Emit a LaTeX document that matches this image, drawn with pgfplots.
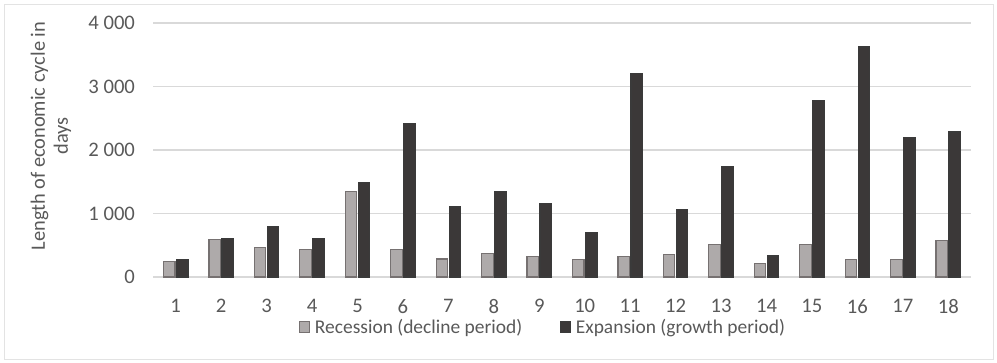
\documentclass[border=0pt]{standalone}
\usepackage{pgfplots}
\pgfplotsset{compat=1.18}
\usepackage{fontspec}
\setmainfont{Carlito}
\definecolor{txt}{HTML}{595959}
\definecolor{gridc}{HTML}{D9D9D9}
\definecolor{recfill}{HTML}{AEAAAA}
\definecolor{recdraw}{HTML}{767171}
\definecolor{expfill}{HTML}{3B3838}
\definecolor{expdraw}{HTML}{3A3A3A}
\definecolor{framec}{HTML}{E3E3E3}
\begin{document}
\begin{tikzpicture}[x=0.75pt,y=0.75pt]
\path[use as bounding box] (0,0) rectangle (997,362);
\draw[framec, line width=0.75pt] (4,3) rectangle (993,358);
\node[rotate=90, align=center, text=txt, font=\fontsize{15.3}{17.25}\selectfont] at (51,226) {Length of economic cycle in\\days};
\begin{axis}[
  at={(153pt*0.75,85pt*0.75)}, anchor=south west,
  scale only axis, width=613.5pt, height=190.5pt,
  /pgf/number format/assume math mode=true,
  ybar=1.1pt, bar width=8.6pt,
  xmin=0.5, xmax=18.5, ymin=0, ymax=4000,
  xtick={1,...,18},
  xticklabels={1,2,3,4,5,6,7,8,9,10,11,12,13,14,15,16,17,18},
  ytick={0,1000,2000,3000,4000},
  yticklabels={0,1 000,2 000,3 000,4 000},
  axis line style={draw=none},
  tick style={draw=none},
  xmajorgrids=false, ymajorgrids=true, grid style={draw=gridc, line width=0.9pt},
  tick label style={text=txt, font=\fontsize{15.5}{17}\selectfont},
  yticklabel style={xshift=-10pt},
  xticklabel style={yshift=-9pt},
  legend style={at={(0.477,-0.197)}, anchor=center, draw=none, fill=none,
    legend columns=2, font=\fontsize{14.6}{17}\selectfont, text=txt,
    /tikz/every even column/.append style={column sep=26pt},
    /tikz/every odd column/.append style={column sep=1.5pt}},
  legend image code/.code={\draw[#1, line width=0.9pt] (0pt,-3.9pt) rectangle (7.8pt,3.9pt);},
]
\addplot[fill=recfill, draw=recdraw, line width=0.9pt] coordinates {
(1,240) (2,586) (3,460) (4,429) (5,1345) (6,429) (7,283) (8,371) (9,326)
(10,274) (11,326) (12,357) (13,510) (14,211) (15,510) (16,274) (17,274) (18,578)};
\addplot[fill=expfill, draw=expdraw, line width=0.9pt] coordinates {
(1,280) (2,612) (3,795) (4,612) (5,1492) (6,2419) (7,1104) (8,1345) (9,1156)
(10,699) (11,3203) (12,1061) (13,1738) (14,331) (15,2778) (16,3622) (17,2195) (18,2283)};
\legend{Recession (decline period), Expansion (growth period)}
\end{axis}
\end{tikzpicture}
\end{document}
